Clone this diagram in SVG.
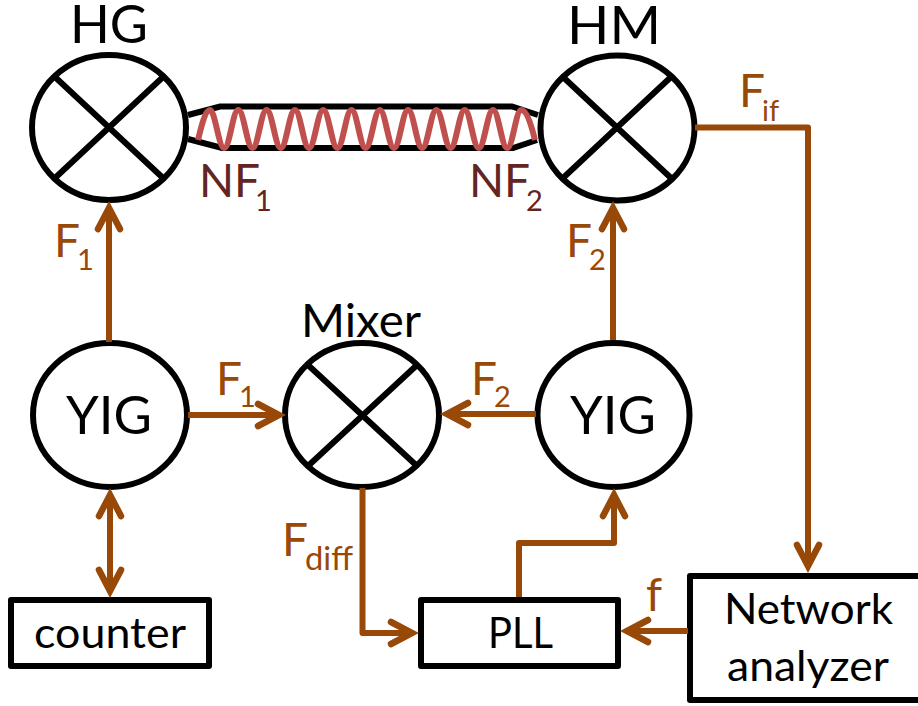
<svg xmlns="http://www.w3.org/2000/svg" width="918" height="706" viewBox="0 0 918 706">
<style>
text{font-family:"Lato","Open Sans","Liberation Sans",sans-serif;font-size:46px;fill:#000}
.b{fill:#984807}.n{fill:#632523}
.s{font-size:29px}
.h{font-size:53px}
.m{font-size:43px}
.node{fill:#fff;stroke:#000;stroke-width:6;stroke-linejoin:round}
.x{stroke:#000;stroke-width:6;fill:none}
.c{fill:none;stroke:#984807;stroke-width:6;stroke-linejoin:round}
</style>
<defs>
<marker id="a" markerUnits="userSpaceOnUse" markerWidth="40" markerHeight="40" refX="30" refY="20" orient="auto-start-reverse" viewBox="0 0 40 40">
<path d="M9 9L30 20L9 31" fill="none" stroke="#984807" stroke-width="6.500" stroke-linecap="round" stroke-linejoin="miter"/>
</marker>
</defs>
<g id="HG"><ellipse class="node" cx="109" cy="127.500" rx="77" ry="72.500"/><path class="x" d="M55 77L163 178M163 77L55 178"/><text class="h" x="70" y="43" textLength="78" lengthAdjust="spacingAndGlyphs">HG</text></g>
<g id="HM"><ellipse class="node" cx="617.500" cy="128" rx="77" ry="72.500"/><path class="x" d="M563 77L671 178M671 77L563 178"/><text class="h" x="567" y="44" textLength="94" lengthAdjust="spacingAndGlyphs">HM</text></g>
<g id="YIG1"><ellipse class="node" cx="110" cy="415" rx="77" ry="72"/><text class="h" x="66" y="434" textLength="86" lengthAdjust="spacingAndGlyphs">YIG</text></g>
<g id="Mixer"><ellipse class="node" cx="362" cy="415" rx="77" ry="72"/><path class="x" d="M308 365L417 466M417 365L308 466"/><text x="301" y="337" textLength="120" lengthAdjust="spacingAndGlyphs">Mixer</text></g>
<g id="YIG2"><ellipse class="node" cx="613.500" cy="415" rx="76" ry="72"/><text class="h" x="570" y="434" textLength="86" lengthAdjust="spacingAndGlyphs">YIG</text></g>
<g id="counter"><rect class="node" x="11" y="600" width="198" height="66"/><text class="m" x="34" y="648" textLength="152" lengthAdjust="spacingAndGlyphs">counter</text></g>
<g id="PLL"><rect class="node" x="421" y="600" width="197" height="66"/><text class="m" x="488" y="648" textLength="65" lengthAdjust="spacingAndGlyphs">PLL</text></g>
<g id="analyzer"><rect class="node" x="690" y="576" width="240" height="124"/><text class="m" x="724" y="624" textLength="169" lengthAdjust="spacingAndGlyphs">Network</text><text class="m" x="727" y="681" textLength="162" lengthAdjust="spacingAndGlyphs">analyzer</text></g>
<g id="resonator">
<path d="M188 115L220 106.500H512L538 115M188 139L222 148H513L537 140" fill="none" stroke="#000" stroke-width="6"/>
<path d="M198 140C201 128 205 110 210 110S218.700 148 224.200 148S232.800 110 238.300 110S247 148 252.500 148S261.100 110 266.600 110S275.300 148 280.800 148S289.400 110 294.900 110S303.500 148 309 148S317.700 110 323.200 110S331.900 148 337.400 148S346 110 351.500 110S360.100 148 365.600 148S374.300 110 379.800 110S388.500 148 394 148S402.600 110 408.100 110S416.700 148 422.200 148S430.900 110 436.400 110S445.100 148 450.600 148S459.200 110 464.700 110S473.300 148 478.800 148S487.500 110 493 110S501.700 148 507.200 148S515.800 110 521.300 110C527 110 532 128 535 140" fill="none" stroke="#C0504D" stroke-width="6"/>
</g>
<g id="connectors">
<path class="c" d="M109 342V208" marker-end="url(#a)"/>
<path class="c" d="M188 415H279" marker-end="url(#a)"/>
<path class="c" d="M536 414H447" marker-end="url(#a)"/>
<path class="c" d="M613 340V208" marker-end="url(#a)"/>
<path class="c" d="M695 127.500H808V566" marker-end="url(#a)"/>
<path class="c" d="M110 495V591" marker-start="url(#a)" marker-end="url(#a)"/>
<path class="c" d="M362.500 488V633H412" marker-end="url(#a)"/>
<path class="c" d="M519 597V543H614V495" marker-end="url(#a)"/>
<path class="c" d="M688 631H627" marker-end="url(#a)"/>
</g>
<g id="labels">
<text class="n" x="199" y="197">NF<tspan class="s" x="255" y="211">1</tspan></text>
<text class="n" x="469" y="197">NF<tspan class="s" x="526" y="211">2</tspan></text>
<text class="b" x="54" y="257">F<tspan class="s" x="77" y="270">1</tspan></text>
<text class="b" x="566" y="257">F<tspan class="s" x="589" y="270">2</tspan></text>
<text class="b" x="216" y="395">F<tspan class="s" x="239" y="407">1</tspan></text>
<text class="b" x="471" y="395">F<tspan class="s" x="494" y="407">2</tspan></text>
<text class="b" x="739" y="107">F<tspan class="s" x="762" y="120.500">if</tspan></text>
<text class="b" x="282" y="556">F<tspan x="305" y="569.500" style="font-size:33px" textLength="48" lengthAdjust="spacingAndGlyphs">diff</tspan></text>
<text class="b" x="646" y="611">f</text>
</g>
</svg>
